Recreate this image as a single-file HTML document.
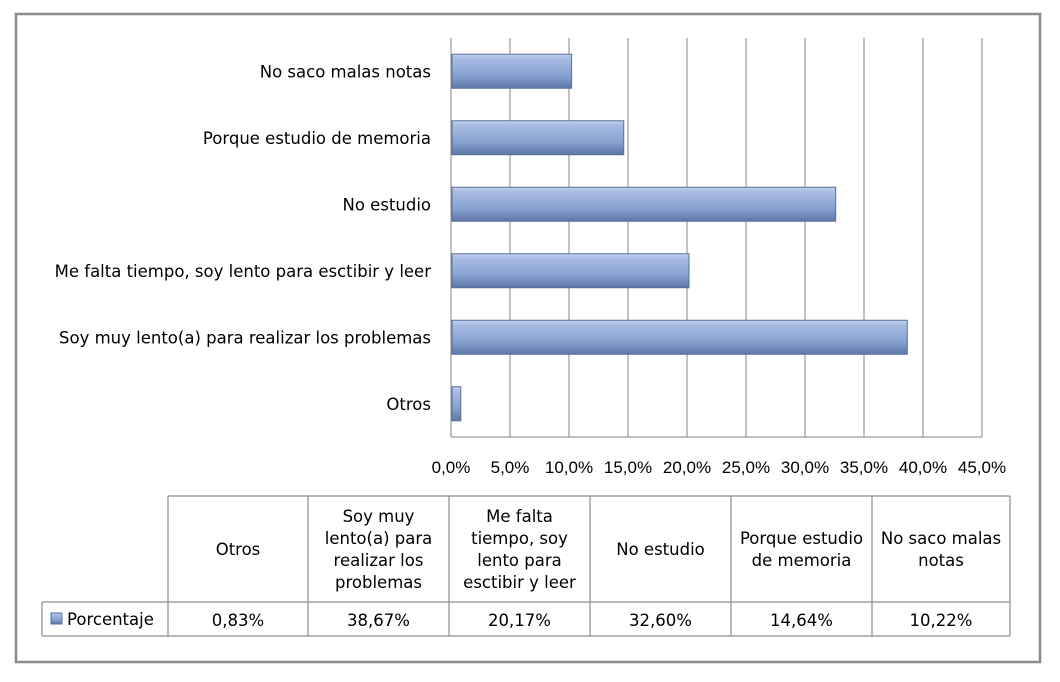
<!DOCTYPE html>
<html><head><meta charset="utf-8"><style>
html,body{margin:0;padding:0;background:#fff;}
svg{display:block;font-family:"Liberation Sans","DejaVu Sans",sans-serif;}
.w{font-family:"DejaVu Sans","Liberation Sans",sans-serif;}
</style></head><body>
<svg id="chart" width="1060" height="682" xmlns="http://www.w3.org/2000/svg">
<defs>
<linearGradient id="bg" x1="0" y1="0" x2="0" y2="1">
<stop offset="0" stop-color="#c3d1ec"/><stop offset="0.15" stop-color="#a6bbe2"/><stop offset="0.6" stop-color="#8aa3d2"/><stop offset="1" stop-color="#5e77a6"/>
</linearGradient>
</defs>
<rect x="16" y="14" width="1024" height="648" fill="#fff" stroke="#8c8c8c" stroke-width="2.5"/>
<g id="grid"></g>
<g id="bars"></g>
<g id="cats"></g>
<g id="ticks"></g>
<g id="table"></g>
</svg>
<script>
const categories = ["Otros","Soy muy lento(a) para realizar los problemas","Me falta tiempo, soy lento para esctibir y leer","No estudio","Porque estudio de memoria","No saco malas notas"];
const values = [0.83,38.67,20.17,32.60,14.64,10.22];
const valueLabels = ["0,83%","38,67%","20,17%","32,60%","14,64%","10,22%"];
const tickValues = [0,5,10,15,20,25,30,35,40,45];
const tickLabels = ["0,0%","5,0%","10,0%","15,0%","20,0%","25,0%","30,0%","35,0%","40,0%","45,0%"];
const headerLines = [["Otros"],["Soy muy","lento(a) para","realizar los","problemas"],["Me falta","tiempo, soy","lento para","esctibir y leer"],["No estudio"],["Porque estudio","de memoria"],["No saco malas","notas"]];

const NS="http://www.w3.org/2000/svg";
const X0=451,X1=982,YT=38,YB=437;
const x=v=>X0+(v/45)*(X1-X0);
const band=(YB-YT)/categories.length;
const yc=i=>YB-band*(i+0.5);
function mk(tag,attrs,parent,text){const e=document.createElementNS(NS,tag);for(const k in attrs)e.setAttribute(k,attrs[k]);if(text!==undefined)e.textContent=text;parent.appendChild(e);return e;}
const grid=document.getElementById('grid'),bars=document.getElementById('bars'),cats=document.getElementById('cats'),ticks=document.getElementById('ticks'),table=document.getElementById('table');
tickValues.forEach((t,i)=>{
 const l=mk('line',{x1:x(t),x2:x(t),y1:YT,y2:YB,stroke:'#868686','stroke-width':1},grid);
 
 
 const tx=mk('text',{x:x(t),y:473,'text-anchor':'middle','font-size':17,fill:'#000'},ticks,tickLabels[i]);
 
 
});
const ax=mk('line',{x1:X0,x2:X1,y1:YB,y2:YB,stroke:'#868686'},grid);


categories.forEach((c,i)=>{
 const h=34,y=yc(i)-h/2;
 const r=mk('rect',{x:X0+1,y:y,width:x(values[i])-X0-1,height:h,fill:'url(#bg)',stroke:'#56709e','stroke-width':1},bars);
 
 
 const t=mk('text',{x:431,y:yc(i)+6,'text-anchor':'end','font-size':16.5,fill:'#000',class:'w'},cats,c);
 
 
});
const colX=[42,168,308,449,590,731,872,1010];
const tTop=496,tMid=602,tBot=636;
const st={stroke:'#8c8c8c','stroke-width':1.2};
function ln(a,b,c,d){const l=mk('line',Object.assign({x1:a,y1:b,x2:c,y2:d},st),table);}
ln(168,tTop,1010,tTop);ln(42,tMid,1010,tMid);ln(42,tBot,1010,tBot);ln(42,tMid,42,tBot);
for(let i=1;i<colX.length;i++)ln(colX[i],tTop,colX[i],tBot);
headerLines.forEach((lines,i)=>{
 const cx=(colX[i+1]+colX[i+2])/2;const lh=22;const y0=(tTop+tMid)/2-(lines.length-1)*lh/2+6;
 lines.forEach((s,j)=>{const t=mk('text',{x:cx,y:y0+j*lh,'text-anchor':'middle','font-size':16.5,class:'w'},table,s);
 
 });
 const v=mk('text',{x:cx,y:626,'text-anchor':'middle','font-size':16.5,class:'w'},table,valueLabels[i]);
 
 
});
const key=mk('rect',{x:51,y:613,width:11,height:11,fill:'url(#bg)',stroke:'#56709e'},table);


const kl=mk('text',{x:67,y:625,'font-size':16.5,class:'w'},table,'Porcentaje');


</script>
</body></html>
